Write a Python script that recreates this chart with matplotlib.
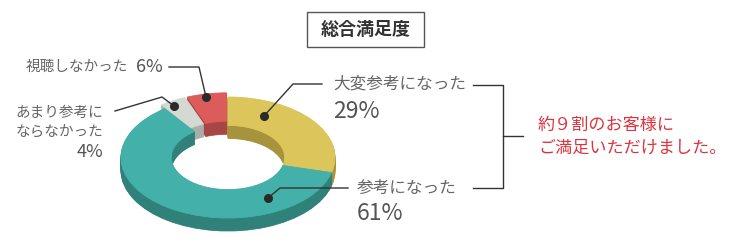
import matplotlib.pyplot as plt
from matplotlib.patches import Rectangle

plt.rcParams['font.family'] = ['Noto Sans CJK JP', 'DejaVu Sans']

# data
labels = ['大変参考になった', '参考になった', 'あまり参考にならなかった', '視聴しなかった']
values = [29, 61, 4, 6]
colors = ['#dcc65c', '#43b0a9', '#d4d9d4', '#dc5c5c']
side_colors = ['#a8933d', '#2f8179', '#a9aea9', '#a84545']
explode = [0, 0, 0.07, 0.07]

W, H = 730, 248
fig = plt.figure(figsize=(W / 100, H / 100), dpi=100)

# donut geometry in pixels (top surface)
cx, cy, rx, ry = 228, 157.5, 107, 60.5
depth = 13
n_layers = 16

# axes for the pie, box in pixels
bx0, by0, bx1, by1 = 100, 70, 360, 245
ax_p = fig.add_axes([bx0 / W, 1 - by1 / H, (bx1 - bx0) / W, (by1 - by0) / H])


def draw_ring(off, cols):
    wedges, _ = ax_p.pie(values, colors=cols, startangle=90, counterclock=False,
                         explode=explode, center=(0, off), radius=1,
                         wedgeprops=dict(width=0.47, linewidth=0.6))
    for w in wedges:
        w.set_edgecolor(w.get_facecolor())


# side (stacked darker rings), then the top surface
for k in range(n_layers, 0, -1):
    draw_ring(-k * depth / n_layers / ry, side_colors)
draw_ring(0, colors)

ax_p.set_aspect('auto')
ax_p.set_xlim((bx0 - cx) / rx, (bx1 - cx) / rx)
ax_p.set_ylim((cy - by1) / ry, (cy - by0) / ry)
ax_p.axis('off')

# overlay in pixel coords for labels
ax = fig.add_axes([0, 0, 1, 1])
ax.set_xlim(0, W)
ax.set_ylim(H, 0)
ax.axis('off')

lc = '#333333'
gray = '#666666'
num = '#555555'

# title box
ax.add_patch(Rectangle((307, 12), 117, 35, fc='white', ec='#555555', lw=1))
ax.text(365.5, 29.5, '総合満足度', ha='center', va='center', fontsize=13,
        fontweight='bold', color='#333333')

# leader lines and dots
lines = [
    [(206, 97), (199, 67), (169, 67)],
    [(174, 106), (162, 97), (115, 111)],
    [(264, 116), (293, 84), (322, 84)],
    [(268, 198), (280, 188), (348, 188)],
]
for pts in lines:
    xs, ys = zip(*pts)
    ax.plot(xs, ys, color=lc, lw=1)
    ax.plot(xs[0], ys[0], 'o', ms=5.5, color='#2a2a2a')

# labels
ax.text(128, 67, labels[3], ha='right', va='center', fontsize=10.5, color=gray)
ax.text(136, 67, f'{values[3]}%', ha='left', va='center', fontsize=13, color=num)

ax.text(103, 113, 'あまり参考に', ha='right', va='center', fontsize=10.5, color=gray)
ax.text(103, 133, 'ならなかった', ha='right', va='center', fontsize=10.5, color=gray)
ax.text(103, 152, f'{values[2]}%', ha='right', va='center', fontsize=13, color=num)

ax.text(333, 84, labels[0], ha='left', va='center', fontsize=12, color=gray)
ax.text(333, 111, f'{values[0]}%', ha='left', va='center', fontsize=16.5, color=num)

ax.text(357, 188, labels[1], ha='left', va='center', fontsize=12, color=gray)
ax.text(357, 213, f'{values[1]}%', ha='left', va='center', fontsize=16.5, color=num)

# bracket
ax.plot([473, 503, 503, 473], [85, 85, 188, 188], color=lc, lw=1)
ax.plot([503, 523], [136, 136], color=lc, lw=1)

red = '#e0323c'
ax.text(538, 125, '約９割のお客様に', ha='left', va='center', fontsize=12.3, color=red)
ax.text(538, 148, 'ご満足いただけました。', ha='left', va='center', fontsize=12.3, color=red)

fig.savefig('out.png', dpi=100, facecolor='white')
